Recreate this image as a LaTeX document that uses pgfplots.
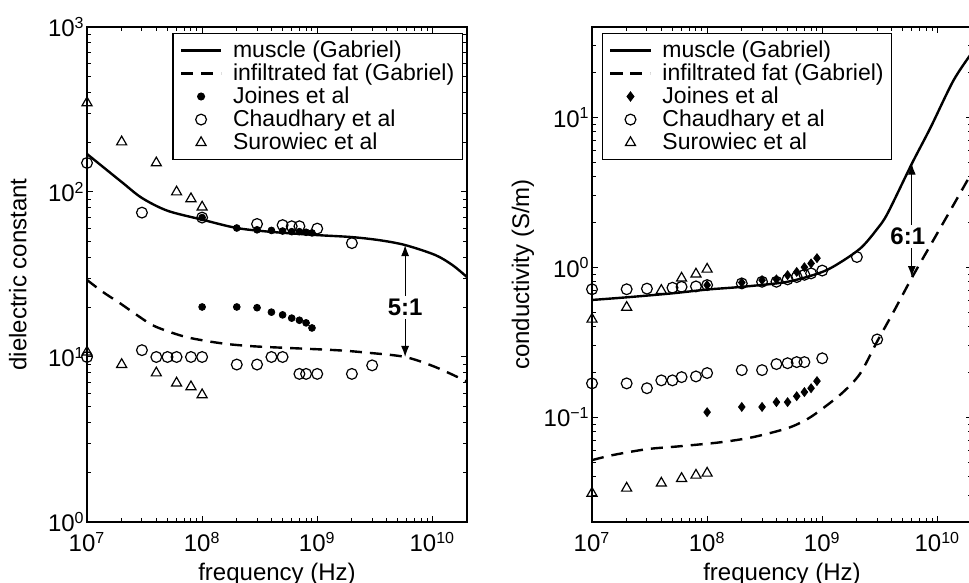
\documentclass[border=0pt]{standalone}
\usepackage{fontspec}
\setmainfont{Liberation Sans}
\usepackage{pgfplots}
\pgfplotsset{compat=1.18}
\usetikzlibrary{arrows.meta}

\pgfplotsset{
  legend image code/.code={\path[draw=none, fill=none] (-2pt,0pt) rectangle (24pt,0pt);
    \draw[mark repeat=2,mark phase=2,#1] plot coordinates {(0pt,0pt) (10pt,0pt) (20pt,0pt)};},
}

\begin{document}
\begin{tikzpicture}
\path[use as bounding box] (-43.5pt,-30.5pt) rectangle (441pt,261pt);

% left panel: dielectric constant
\begin{axis}[at={(0pt,0pt)}, anchor=south west,
    scale only axis, width=190pt, height=247.5pt,
    xmode=log, ymode=log,
    xmin=1e7, xmax=2e10, ymin=1, ymax=1000,
    xtick={1e7,1e8,1e9,1e10},
    xticklabels={10\textsuperscript{7},10\textsuperscript{8},10\textsuperscript{9},10\textsuperscript{10}},
    minor xtick={2e7,3e7,4e7,5e7,6e7,7e7,8e7,9e7,2e8,3e8,4e8,5e8,6e8,7e8,8e8,9e8,2e9,3e9,4e9,5e9,6e9,7e9,8e9,9e9,2e10},
    ytick={1,10,100,1000},
    yticklabels={10\textsuperscript{0},10\textsuperscript{1},10\textsuperscript{2},10\textsuperscript{3}},
    minor ytick={2,3,4,5,6,7,8,9,20,30,40,50,60,70,80,90,200,300,400,500,600,700,800,900},
    tick align=inside,
    major tick length=3pt, minor tick length=1.8pt,
    tick style={black, line width=0.5pt},
    axis line style={line width=0.8pt},
    tick label style={font=\fontsize{12}{14}\selectfont},
    label style={font=\fontsize{12}{14}\selectfont},
    xlabel={frequency (Hz)},
    ylabel={dielectric constant},
    xlabel style={at={(axis description cs:0.5,-0.105)}, anchor=center},
    ylabel style={at={(axis description cs:-0.182,0.5)}, anchor=center},
    xticklabel style={yshift=-1.5pt},
    yticklabel style={inner xsep=1pt},
    legend cell align=left,
    legend style={font=\fontsize{11.5}{12}\selectfont, draw=black, line width=0.6pt,
      row sep=-2.3pt, inner xsep=2pt, inner ysep=1.5pt,
      at={(0.989,0.988)}, anchor=north east},
]
\addplot[black, line width=1.2pt, smooth, no marks] coordinates {
(1e7,170) (2e7,115) (3e7,92) (5e7,77) (1e8,68) (2e8,60.5) (4e8,57.3) (1e9,54.8) (2e9,53.3) (3.5e9,51) (5.8e9,47.7) (1.06e10,41.5) (1.5e10,36) (2e10,30.5)
};
\addlegendentry{muscle (Gabriel)}
\addplot[black, line width=1.2pt, smooth, no marks, dash pattern=on 6pt off 4pt] coordinates {
(1e7,29.3) (1.37e7,24.8) (1.93e7,21.2) (2.7e7,18.0) (3.7e7,15.6) (5.2e7,14.2) (7.3e7,13.2) (1.09e8,12.5) (1.62e8,12.0) (2.4e8,11.7) (3.6e8,11.5) (1.45e9,11.0) (2.8e9,10.6) (5.8e9,10.0) (1.06e10,8.7) (2e10,7.1)
};
\addlegendentry{infiltrated fat (Gabriel)}
\addplot[only marks, mark=*, mark size=1.7pt, black] coordinates {
(1e8,70) (2e8,60.5) (3e8,59) (4e8,58.5) (5e8,58) (6e8,57.5) (7e8,57.5) (8e8,57) (9e8,56.5)
(1e8,20.1) (2e8,20.1) (3e8,19.9) (4e8,18.7) (5e8,18.0) (6e8,17.2) (7e8,16.7) (8e8,16.1) (9e8,15.0)
};
\addlegendentry{Joines et al}
\addplot[only marks, mark=o, mark size=2.7pt, black, mark options={line width=0.6pt}] coordinates {
(1e7,150) (3e7,75) (1e8,70) (3e8,64) (5e8,63) (6e8,62) (7e8,62) (1e9,60) (2e9,49)
(1e7,10) (3e7,11) (4e7,10) (5e7,10) (6e7,10) (8e7,10) (1e8,10) (2e8,9) (3e8,9) (4e8,10) (5e8,10) (7e8,7.9) (8e8,7.9) (1e9,7.9) (2e9,7.9) (3e9,8.9)
};
\addlegendentry{Chaudhary et al}
\addplot[only marks, mark=triangle, mark size=2.9pt, black, mark options={line width=0.6pt}] coordinates {
(1e7,347) (2e7,201) (4e7,150) (6e7,100) (8e7,91) (1e8,81)
(1e7,10.7) (2e7,9.0) (4e7,8.0) (6e7,6.95) (8e7,6.6) (1e8,5.9)
};
\addlegendentry{Surowiec et al}
\draw[{Latex[length=5.5pt,width=4pt]}-{Latex[length=5.5pt,width=4pt]}, line width=0.6pt]
  (axis cs:5.8e9,47.7) -- node[pos=0.56, fill=white, inner sep=1.5pt, font=\bfseries\fontsize{12}{12}\selectfont] {5:1} (axis cs:5.8e9,10);
\end{axis}

% right panel: conductivity
\begin{axis}[at={(252.5pt,0pt)}, anchor=south west,
    scale only axis, width=190pt, height=247.5pt,
    xmode=log, ymode=log,
    xmin=1e7, xmax=2e10, ymin=0.02, ymax=40,
    xtick={1e7,1e8,1e9,1e10},
    xticklabels={10\textsuperscript{7},10\textsuperscript{8},10\textsuperscript{9},10\textsuperscript{10}},
    minor xtick={2e7,3e7,4e7,5e7,6e7,7e7,8e7,9e7,2e8,3e8,4e8,5e8,6e8,7e8,8e8,9e8,2e9,3e9,4e9,5e9,6e9,7e9,8e9,9e9,2e10},
    ytick={0.1,1,10},
    yticklabels={10\textsuperscript{−1},10\textsuperscript{0},10\textsuperscript{1}},
    minor ytick={0.02,0.03,0.04,0.05,0.06,0.07,0.08,0.09,0.2,0.3,0.4,0.5,0.6,0.7,0.8,0.9,2,3,4,5,6,7,8,9,20,30,40},
    tick align=inside,
    major tick length=3pt, minor tick length=1.8pt,
    tick style={black, line width=0.5pt},
    axis line style={line width=0.8pt},
    tick label style={font=\fontsize{12}{14}\selectfont},
    label style={font=\fontsize{12}{14}\selectfont},
    xlabel={frequency (Hz)},
    ylabel={conductivity (S/m)},
    xlabel style={at={(axis description cs:0.5,-0.105)}, anchor=center},
    ylabel style={at={(axis description cs:-0.182,0.5)}, anchor=center},
    xticklabel style={yshift=-1.5pt},
    yticklabel style={inner xsep=1pt},
    legend cell align=left,
    legend style={font=\fontsize{11.5}{12}\selectfont, draw=black, line width=0.6pt,
      row sep=-2.3pt, inner xsep=2pt, inner ysep=1.5pt,
      at={(0.026,0.988)}, anchor=north west},
]
\addplot[black, line width=1.2pt, smooth, no marks] coordinates {
(1e7,0.605) (2e7,0.63) (5e7,0.67) (1e8,0.71) (2e8,0.74) (5e8,0.80) (1e9,0.93) (1.5e9,1.10) (2.2e9,1.36) (3e9,1.80) (3.7e9,2.29) (6e9,4.9) (8.7e9,8.5) (1.38e10,17.6) (2e10,27)
};
\addlegendentry{muscle (Gabriel)}
\addplot[black, line width=1.2pt, smooth, no marks, dash pattern=on 6pt off 4pt] coordinates {
(1e7,0.0517) (1.5e7,0.0558) (3e7,0.0612) (5.8e7,0.064) (1.3e8,0.068) (2.5e8,0.0736) (5e8,0.0845) (7.4e8,0.097) (1.02e9,0.115) (1.52e9,0.147) (2.14e9,0.196) (3e9,0.32) (4.14e9,0.50) (6e9,0.85) (8.7e9,1.40) (1.3e10,2.4) (2e10,4.3)
};
\addlegendentry{infiltrated fat (Gabriel)}
\addplot[only marks, mark=diamond*, mark size=2.2pt, black] coordinates {
(1e8,0.76) (2e8,0.79) (3e8,0.82) (4e8,0.83) (5e8,0.885) (6e8,0.93) (7e8,1.0) (8e8,1.06) (9e8,1.15)
(1e8,0.108) (2e8,0.117) (3e8,0.117) (4e8,0.126) (5e8,0.126) (6e8,0.138) (7e8,0.147) (8e8,0.156) (9e8,0.174)
};
\addlegendentry{Joines et al}
\addplot[only marks, mark=o, mark size=2.7pt, black, mark options={line width=0.6pt}] coordinates {
(1e7,0.713) (2e7,0.713) (3e7,0.72) (5e7,0.73) (6e7,0.74) (8e7,0.745) (1e8,0.76) (2e8,0.78) (3e8,0.80) (4e8,0.80) (5e8,0.83) (6e8,0.86) (7e8,0.89) (8e8,0.91) (1e9,0.95) (2e9,1.17)
(1e7,0.168) (2e7,0.168) (3e7,0.156) (4e7,0.176) (5e7,0.176) (6e7,0.185) (8e7,0.187) (1e8,0.197) (2e8,0.206) (3e8,0.206) (4e8,0.226) (5e8,0.229) (6e8,0.233) (7e8,0.233) (1e9,0.247) (3e9,0.33)
};
\addlegendentry{Chaudhary et al}
\addplot[only marks, mark=triangle, mark size=2.9pt, black, mark options={line width=0.6pt}] coordinates {
(1e7,0.45) (2e7,0.54) (4e7,0.70) (6e7,0.845) (8e7,0.90) (1e8,0.97)
(1e7,0.0311) (2e7,0.0336) (4e7,0.0363) (6e7,0.039) (8e7,0.041) (1e8,0.0423)
};
\addlegendentry{Surowiec et al}
\draw[{Latex[length=5.5pt,width=4pt]}-{Latex[length=5.5pt,width=4pt]}, line width=0.6pt]
  (axis cs:6e9,4.9) -- node[pos=0.64, xshift=-2pt, fill=white, inner sep=1.5pt, font=\bfseries\fontsize{12}{12}\selectfont] {6:1} (axis cs:6e9,0.86);
\end{axis}
\end{tikzpicture}
\end{document}
